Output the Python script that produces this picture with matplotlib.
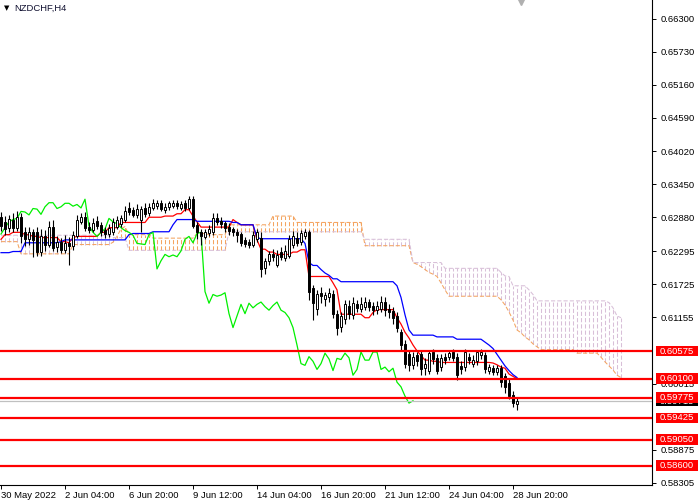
import numpy as np
import matplotlib
matplotlib.use("Agg")
import matplotlib.pyplot as plt
from matplotlib.patches import Rectangle

# NZDCHF H4 candles (30 May - 29 Jun 2022)
opens = [
    0.6288, 0.6279, 0.6270, 0.6284, 0.6270, 0.6288, 0.6262, 0.6250, 0.6262, 0.6262,
    0.6228, 0.6256, 0.6240, 0.6272, 0.6236, 0.6245, 0.6232, 0.6243, 0.6238, 0.6255,
    0.6280, 0.6288, 0.6272, 0.6266, 0.6281, 0.6274, 0.6266, 0.6259, 0.6262, 0.6272,
    0.6276, 0.6283, 0.6304, 0.6300, 0.6292, 0.6284, 0.6304, 0.6296, 0.6304, 0.6308,
    0.6312, 0.6300, 0.6305, 0.6307, 0.6313, 0.6304, 0.6313, 0.6304, 0.6319, 0.6275,
    0.6263, 0.6254, 0.6260, 0.6262, 0.6286, 0.6282, 0.6278, 0.6272, 0.6267, 0.6262,
    0.6259, 0.6248, 0.6245, 0.6241, 0.6250, 0.6252, 0.6200, 0.6212, 0.6225, 0.6206,
    0.6228, 0.6218, 0.6222, 0.6240, 0.6252, 0.6246, 0.6256, 0.6262, 0.6166, 0.6130,
    0.6158, 0.6148, 0.6150, 0.6156, 0.6122, 0.6099, 0.6112, 0.6136, 0.6120, 0.6138,
    0.6130, 0.6134, 0.6142, 0.6135, 0.6128, 0.6130, 0.6142, 0.6130, 0.6126, 0.6118,
    0.6090, 0.6070, 0.6052, 0.6034, 0.6050, 0.6052, 0.6028, 0.6024, 0.6056, 0.6046,
    0.6030, 0.6048, 0.6048, 0.6056, 0.6048, 0.6032, 0.6030, 0.6048, 0.6035, 0.6040,
    0.6050, 0.6050, 0.6024, 0.6028, 0.6022, 0.6028, 0.6014, 0.6002, 0.5982, 0.5966,
]
highs = [
    0.6297, 0.6290, 0.6292, 0.6295, 0.6299, 0.6296, 0.6272, 0.6272, 0.6268, 0.6272,
    0.6268, 0.6266, 0.6281, 0.6284, 0.6256, 0.6252, 0.6258, 0.6254, 0.6265, 0.6292,
    0.6296, 0.6297, 0.6280, 0.6286, 0.6290, 0.6280, 0.6272, 0.6276, 0.6286, 0.6290,
    0.6292, 0.6308, 0.6314, 0.6306, 0.6310, 0.6308, 0.6312, 0.6312, 0.6320, 0.6318,
    0.6318, 0.6312, 0.6316, 0.6318, 0.6318, 0.6316, 0.6318, 0.6325, 0.6324, 0.6280,
    0.6268, 0.6268, 0.6275, 0.6296, 0.6296, 0.6288, 0.6282, 0.6278, 0.6272, 0.6268,
    0.6262, 0.6254, 0.6250, 0.6265, 0.6268, 0.6262, 0.6218, 0.6230, 0.6234, 0.6232,
    0.6236, 0.6240, 0.6258, 0.6265, 0.6262, 0.6266, 0.6268, 0.6266, 0.6172, 0.6162,
    0.6168, 0.6160, 0.6166, 0.6162, 0.6128, 0.6124, 0.6146, 0.6146, 0.6150, 0.6146,
    0.6150, 0.6150, 0.6148, 0.6142, 0.6144, 0.6152, 0.6150, 0.6138, 0.6134, 0.6124,
    0.6096, 0.6076, 0.6060, 0.6056, 0.6056, 0.6060, 0.6046, 0.6058, 0.6062, 0.6052,
    0.6052, 0.6054, 0.6060, 0.6062, 0.6054, 0.6040, 0.6062, 0.6054, 0.6050, 0.6060,
    0.6062, 0.6056, 0.6036, 0.6034, 0.6034, 0.6034, 0.6020, 0.6010, 0.5988, 0.5976,
]
lows = [
    0.6264, 0.6258, 0.6262, 0.6262, 0.6264, 0.6243, 0.6238, 0.6240, 0.6220, 0.6222,
    0.6222, 0.6230, 0.6236, 0.6230, 0.6228, 0.6226, 0.6226, 0.6206, 0.6232, 0.6252,
    0.6276, 0.6265, 0.6260, 0.6262, 0.6268, 0.6256, 0.6252, 0.6254, 0.6258, 0.6268,
    0.6272, 0.6280, 0.6292, 0.6288, 0.6286, 0.6262, 0.6288, 0.6290, 0.6300, 0.6302,
    0.6298, 0.6296, 0.6300, 0.6304, 0.6302, 0.6300, 0.6299, 0.6300, 0.6270, 0.6250,
    0.6240, 0.6250, 0.6255, 0.6258, 0.6275, 0.6270, 0.6262, 0.6258, 0.6255, 0.6245,
    0.6238, 0.6236, 0.6235, 0.6236, 0.6246, 0.6185, 0.6190, 0.6205, 0.6212, 0.6202,
    0.6214, 0.6212, 0.6218, 0.6235, 0.6238, 0.6240, 0.6250, 0.6146, 0.6111, 0.6120,
    0.6140, 0.6135, 0.6142, 0.6114, 0.6085, 0.6090, 0.6105, 0.6112, 0.6112, 0.6125,
    0.6124, 0.6128, 0.6126, 0.6120, 0.6122, 0.6124, 0.6118, 0.6115, 0.6105, 0.6090,
    0.6060, 0.6028, 0.6024, 0.6026, 0.6032, 0.6016, 0.6016, 0.6018, 0.6036, 0.6018,
    0.6024, 0.6036, 0.6042, 0.6040, 0.6008, 0.6018, 0.6024, 0.6036, 0.6030, 0.6034,
    0.6044, 0.6020, 0.6018, 0.6016, 0.6016, 0.5995, 0.5986, 0.5975, 0.5962, 0.5956,
]
closes = [
    0.6273, 0.6267, 0.6285, 0.6270, 0.6288, 0.6255, 0.6250, 0.6262, 0.6248, 0.6228,
    0.6256, 0.6240, 0.6272, 0.6235, 0.6245, 0.6232, 0.6243, 0.6238, 0.6258, 0.6284,
    0.6289, 0.6270, 0.6266, 0.6278, 0.6273, 0.6262, 0.6259, 0.6270, 0.6280, 0.6284,
    0.6286, 0.6298, 0.6297, 0.6292, 0.6303, 0.6302, 0.6293, 0.6306, 0.6313, 0.6313,
    0.6303, 0.6306, 0.6312, 0.6312, 0.6307, 0.6310, 0.6304, 0.6319, 0.6273, 0.6262,
    0.6255, 0.6262, 0.6268, 0.6286, 0.6280, 0.6277, 0.6270, 0.6265, 0.6262, 0.6257,
    0.6243, 0.6242, 0.6241, 0.6258, 0.6262, 0.6199, 0.6213, 0.6224, 0.6220, 0.6223,
    0.6220, 0.6230, 0.6250, 0.6255, 0.6244, 0.6260, 0.6262, 0.6160, 0.6140, 0.6155,
    0.6152, 0.6154, 0.6158, 0.6122, 0.6098, 0.6118, 0.6138, 0.6122, 0.6140, 0.6132,
    0.6138, 0.6142, 0.6134, 0.6128, 0.6136, 0.6142, 0.6128, 0.6124, 0.6115, 0.6098,
    0.6068, 0.6036, 0.6033, 0.6048, 0.6040, 0.6026, 0.6036, 0.6054, 0.6044, 0.6024,
    0.6045, 0.6043, 0.6054, 0.6046, 0.6016, 0.6026, 0.6056, 0.6042, 0.6042, 0.6056,
    0.6056, 0.6026, 0.6030, 0.6022, 0.6028, 0.6004, 0.5996, 0.5980, 0.5968, 0.5972,
]

# Ichimoku lines
tenkan = [
    0.6250, 0.6258, 0.6258, 0.6262, 0.6262, 0.6262, 0.6258, 0.6258, 0.6255, 0.6255,
    0.6253, 0.6253, 0.6253, 0.6253, 0.6253, 0.6246, 0.6246, 0.6244, 0.6253, 0.6255,
    0.6255, 0.6255, 0.6255, 0.6255, 0.6255, 0.6262, 0.6262, 0.6270, 0.6270, 0.6270,
    0.6279, 0.6279, 0.6279, 0.6279, 0.6279, 0.6279, 0.6279, 0.6288, 0.6288, 0.6288,
    0.6288, 0.6290, 0.6290, 0.6290, 0.6294, 0.6294, 0.6301, 0.6301, 0.6290, 0.6280,
    0.6271, 0.6271, 0.6271, 0.6271, 0.6271, 0.6271, 0.6271, 0.6271, 0.6284, 0.6279,
    0.6275, 0.6275, 0.6275, 0.6275, 0.6249, 0.6233, 0.6233, 0.6228, 0.6228, 0.6224,
    0.6224, 0.6224, 0.6224, 0.6228, 0.6228, 0.6232, 0.6232, 0.6186, 0.6186, 0.6186,
    0.6186, 0.6186, 0.6186, 0.6175, 0.6163, 0.6121, 0.6121, 0.6121, 0.6121, 0.6121,
    0.6121, 0.6115, 0.6115, 0.6124, 0.6129, 0.6129, 0.6129, 0.6129, 0.6129, 0.6115,
    0.6104, 0.6090, 0.6080, 0.6068, 0.6058, 0.6050, 0.6042, 0.6042, 0.6040, 0.6040,
    0.6038, 0.6038, 0.6038, 0.6038, 0.6038, 0.6038, 0.6038, 0.6038, 0.6038, 0.6038,
    0.6038, 0.6038, 0.6038, 0.6037, 0.6034, 0.6030, 0.6028, 0.6018, 0.6014, 0.6010,
]
kijun = [
    0.6227, 0.6227, 0.6227, 0.6229, 0.6229, 0.6229, 0.6244, 0.6244, 0.6244, 0.6244,
    0.6244, 0.6244, 0.6244, 0.6244, 0.6244, 0.6246, 0.6249, 0.6249, 0.6249, 0.6249,
    0.6249, 0.6249, 0.6249, 0.6249, 0.6249, 0.6249, 0.6249, 0.6249, 0.6249, 0.6249,
    0.6249, 0.6249, 0.6258, 0.6260, 0.6260, 0.6260, 0.6260, 0.6260, 0.6263, 0.6263,
    0.6263, 0.6263, 0.6263, 0.6275, 0.6284, 0.6284, 0.6284, 0.6284, 0.6284, 0.6281,
    0.6281, 0.6281, 0.6281, 0.6281, 0.6281, 0.6281, 0.6281, 0.6281, 0.6279, 0.6279,
    0.6275, 0.6275, 0.6275, 0.6275, 0.6253, 0.6251, 0.6251, 0.6251, 0.6251, 0.6251,
    0.6251, 0.6251, 0.6251, 0.6251, 0.6251, 0.6251, 0.6243, 0.6210, 0.6205, 0.6205,
    0.6198, 0.6192, 0.6188, 0.6182, 0.6182, 0.6177, 0.6177, 0.6177, 0.6177, 0.6177,
    0.6177, 0.6177, 0.6177, 0.6177, 0.6177, 0.6177, 0.6177, 0.6177, 0.6177, 0.6170,
    0.6150, 0.6120, 0.6094, 0.6085, 0.6085, 0.6085, 0.6085, 0.6085, 0.6085, 0.6082,
    0.6082, 0.6082, 0.6082, 0.6082, 0.6078, 0.6078, 0.6078, 0.6078, 0.6078, 0.6078,
    0.6078, 0.6073, 0.6068, 0.6062, 0.6052, 0.6042, 0.6032, 0.6024, 0.6017, 0.6012,
]
# cloud spans 26 bars further than the price data
senkou_a = [
    0.6246, 0.6246, 0.6246, 0.6246, 0.6246, 0.6225, 0.6225, 0.6225, 0.6225, 0.6225,
    0.6225, 0.6225, 0.6225, 0.6225, 0.6225, 0.6225, 0.6225, 0.6225, 0.6241, 0.6241,
    0.6241, 0.6241, 0.6241, 0.6241, 0.6241, 0.6241, 0.6241, 0.6241, 0.6245, 0.6255,
    0.6268, 0.6272, 0.6258, 0.6258, 0.6258, 0.6258, 0.6258, 0.6258, 0.6252, 0.6252,
    0.6252, 0.6252, 0.6252, 0.6252, 0.6252, 0.6252, 0.6252, 0.6252, 0.6252, 0.6260,
    0.6260, 0.6260, 0.6258, 0.6258, 0.6258, 0.6258, 0.6258, 0.6275, 0.6275, 0.6275,
    0.6275, 0.6275, 0.6275, 0.6275, 0.6275, 0.6275, 0.6275, 0.6275, 0.6290, 0.6290,
    0.6290, 0.6290, 0.6290, 0.6290, 0.6279, 0.6279, 0.6279, 0.6279, 0.6279, 0.6279,
    0.6279, 0.6279, 0.6279, 0.6279, 0.6279, 0.6279, 0.6279, 0.6279, 0.6279, 0.6279,
    0.6279, 0.6239, 0.6239, 0.6239, 0.6239, 0.6239, 0.6239, 0.6239, 0.6239, 0.6239,
    0.6239, 0.6239, 0.6239, 0.6210, 0.6207, 0.6203, 0.6198, 0.6193, 0.6190, 0.6186,
    0.6175, 0.6163, 0.6152, 0.6152, 0.6152, 0.6152, 0.6152, 0.6152, 0.6152, 0.6152,
    0.6152, 0.6152, 0.6152, 0.6152, 0.6152, 0.6146, 0.6137, 0.6125, 0.6111, 0.6094,
    0.6089, 0.6082, 0.6077, 0.6070, 0.6065, 0.6060, 0.6060, 0.6060, 0.6060, 0.6060,
    0.6060, 0.6060, 0.6060, 0.6060, 0.6054, 0.6054, 0.6054, 0.6054, 0.6054, 0.6054,
    0.6047, 0.6039, 0.6032, 0.6025, 0.6016, 0.6012,
]
senkou_b = [
    0.6257, 0.6257, 0.6257, 0.6257, 0.6257, 0.6257, 0.6257, 0.6257, 0.6257, 0.6257,
    0.6257, 0.6257, 0.6257, 0.6257, 0.6257, 0.6257, 0.6257, 0.6257, 0.6257, 0.6257,
    0.6257, 0.6257, 0.6257, 0.6257, 0.6257, 0.6257, 0.6257, 0.6257, 0.6253, 0.6253,
    0.6253, 0.6253, 0.6231, 0.6231, 0.6231, 0.6231, 0.6231, 0.6231, 0.6231, 0.6231,
    0.6231, 0.6231, 0.6231, 0.6231, 0.6231, 0.6231, 0.6231, 0.6231, 0.6231, 0.6231,
    0.6231, 0.6231, 0.6231, 0.6231, 0.6231, 0.6231, 0.6231, 0.6263, 0.6263, 0.6263,
    0.6263, 0.6263, 0.6263, 0.6263, 0.6263, 0.6263, 0.6263, 0.6263, 0.6263, 0.6263,
    0.6263, 0.6263, 0.6263, 0.6263, 0.6263, 0.6263, 0.6263, 0.6263, 0.6263, 0.6263,
    0.6263, 0.6263, 0.6263, 0.6263, 0.6263, 0.6263, 0.6263, 0.6263, 0.6263, 0.6263,
    0.6263, 0.6250, 0.6250, 0.6250, 0.6250, 0.6250, 0.6250, 0.6250, 0.6250, 0.6250,
    0.6250, 0.6250, 0.6250, 0.6210, 0.6210, 0.6210, 0.6210, 0.6210, 0.6210, 0.6210,
    0.6210, 0.6200, 0.6200, 0.6200, 0.6200, 0.6200, 0.6200, 0.6200, 0.6200, 0.6200,
    0.6200, 0.6200, 0.6200, 0.6200, 0.6200, 0.6193, 0.6187, 0.6186, 0.6170, 0.6170,
    0.6170, 0.6170, 0.6163, 0.6155, 0.6144, 0.6144, 0.6144, 0.6144, 0.6144, 0.6144,
    0.6144, 0.6144, 0.6144, 0.6144, 0.6144, 0.6144, 0.6144, 0.6144, 0.6144, 0.6144,
    0.6144, 0.6144, 0.6141, 0.6132, 0.6118, 0.6115,
]

levels = [0.60575, 0.60100, 0.59775, 0.59425, 0.59050, 0.58600]
price_ticks = [0.66300, 0.65730, 0.65160, 0.64590, 0.64020, 0.63450, 0.62880,
               0.62295, 0.61725, 0.61155, 0.60015, 0.58875, 0.58305]
current_price = 0.59715
time_labels = ["30 May 2022", "2 Jun 04:00", "6 Jun 20:00", "9 Jun 12:00", "14 Jun 04:00",
               "16 Jun 20:00", "21 Jun 12:00", "24 Jun 04:00", "28 Jun 20:00"]
label_every = 16
shift = 26

o = np.array(opens)
h = np.array(highs)
l = np.array(lows)
c = np.array(closes)
x = np.arange(len(c))
xc = np.arange(len(senkou_a))
sa = np.array(senkou_a)
sb = np.array(senkou_b)

plt.rcParams['font.family'] = ['Liberation Sans', 'DejaVu Sans']
FS = 6.8

fig = plt.figure(figsize=(7, 5), dpi=100)
ax = fig.add_axes([0, 0.03, 652 / 700, 0.97])
ax.set_xlim(-0.25, 162.75)
ax.set_ylim(0.5827, 0.6662)

# Kumo: dotted histogram between the two spans
dash = (0, (4, 2))
cloud_cols = ['#F4A460' if a > b else '#D8BFD8' for a, b in zip(sa, sb)]
ax.vlines(xc, np.minimum(sa, sb), np.maximum(sa, sb), colors=cloud_cols,
          linestyles=dash, linewidth=0.75, zorder=1)
ax.plot(xc, sa, color='#F4A460', lw=0.75, ls=dash, zorder=1)
ax.plot(xc, sb, color='#D8BFD8', lw=0.75, ls=dash, zorder=1)

# tenkan, kijun, chikou
ax.plot(x, tenkan, color='red', lw=0.9, zorder=2)
ax.plot(x, kijun, color='blue', lw=0.9, zorder=2)
ax.plot(x[:-shift], c[shift:], color='#00F000', lw=0.9, zorder=2)

# current price line
ax.axhline(current_price, color='#C0C0C0', lw=0.9, zorder=2)

# candles
ax.vlines(x, l, h, color='black', lw=0.8, zorder=3)
body_lo = np.minimum(o, c)
body_h = np.maximum(np.abs(c - o), 0.00003)
face = ['white' if cc >= oo else 'black' for oo, cc in zip(o, c)]
ax.bar(x, body_h, bottom=body_lo, width=0.55, color=face, edgecolor='black',
       linewidth=0.7, zorder=4)

# price tags on the right axis
ytr = ax.get_yaxis_transform()
tag_h = 0.00185


def price_tag(value, colour, z):
    ax.add_patch(Rectangle((1.006, value - tag_h / 2), 0.065, tag_h, transform=ytr,
                           facecolor=colour, edgecolor='none', clip_on=False, zorder=z))
    ax.text(1.0385, value, f"{value:.5f}", transform=ytr, color='white', fontsize=FS,
            va='center', ha='center', zorder=z + 0.5, clip_on=False)


price_tag(current_price, 'black', 6)
for lv in levels:
    ax.axhline(lv, color='red', lw=1.6, zorder=5)
    price_tag(lv, 'red', 7)

# axes look
for s in ['left', 'top']:
    ax.spines[s].set_visible(False)
ax.spines['right'].set_linewidth(0.8)
ax.spines['bottom'].set_linewidth(0.8)
ax.yaxis.tick_right()
ax.set_yticks(price_ticks)
ax.set_yticklabels([f"{t:.5f}" for t in price_ticks])
ax.set_xticks(np.arange(len(time_labels)) * label_every)
ax.set_xticklabels(time_labels)
for lbl in ax.get_xticklabels():
    lbl.set_ha('left')
ax.tick_params(axis='y', direction='out', length=3, width=0.7, labelsize=FS, pad=3)
ax.tick_params(axis='x', direction='out', length=3, width=0.7, labelsize=FS, pad=1)

# chart shift marker and symbol title
ax.plot([len(c)], [0.997], marker='v', color='#B0B0B0', markersize=6,
        transform=ax.get_xaxis_transform(), clip_on=False, zorder=8)
fig.text(0.005, 0.984, "\u25bc", fontsize=5, va='center', ha='left', family='DejaVu Sans')
fig.text(0.021, 0.984, "NZDCHF,H4", fontsize=FS, va='center', ha='left', color='#101030')

fig.savefig("out.png", dpi=100)
